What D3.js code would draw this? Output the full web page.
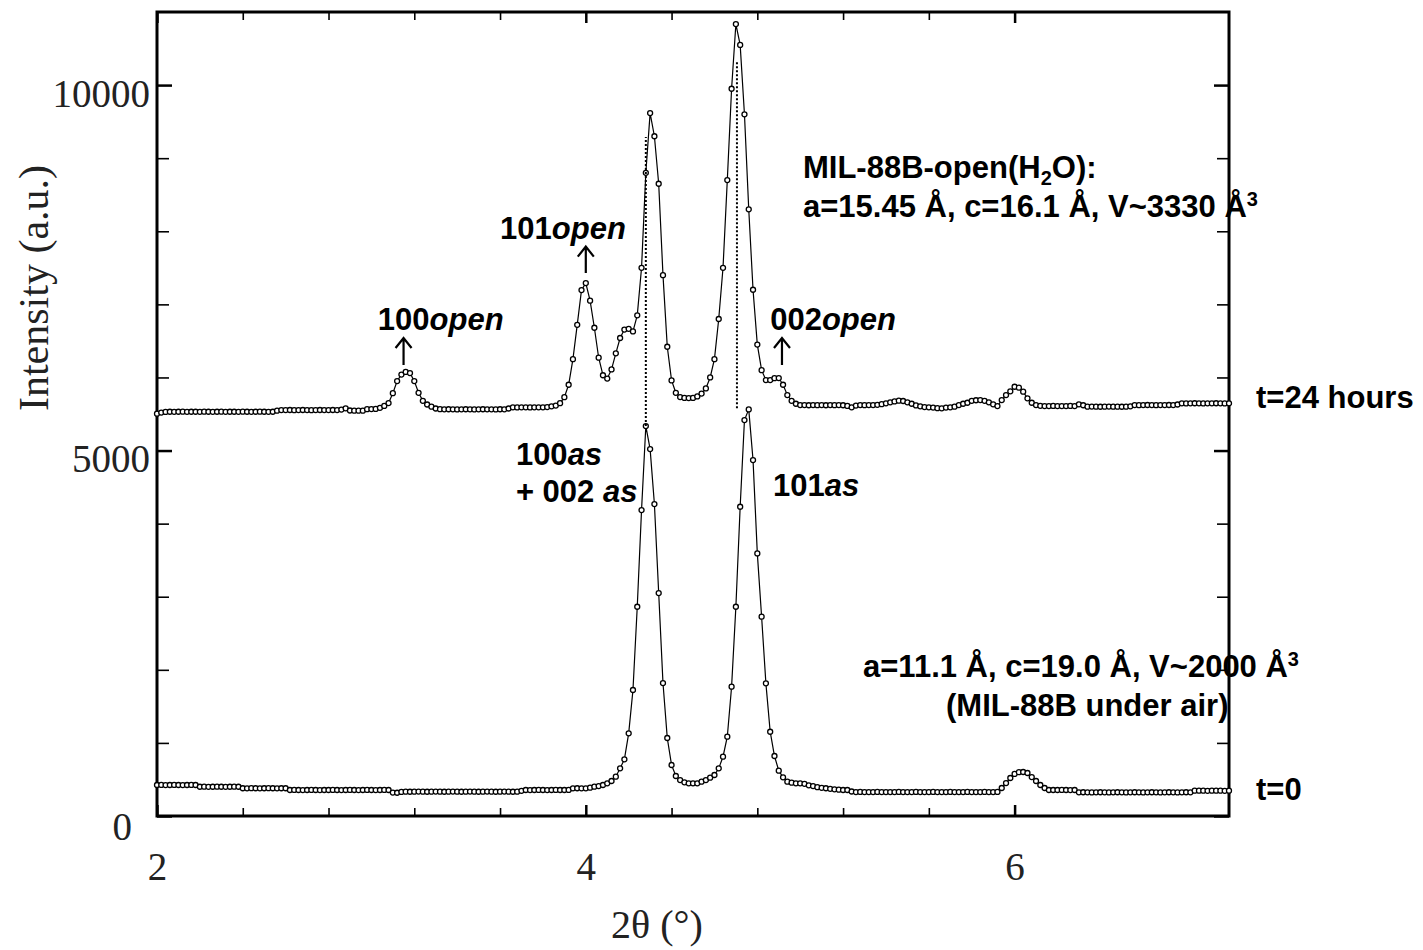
<!DOCTYPE html>
<html>
<head>
<meta charset="utf-8">
<script src="https://cdn.jsdelivr.net/npm/d3@7/dist/d3.min.js"></script>
<style>
  body { margin: 0; background: #fff; }
  #container { width: 1423px; height: 950px; }
</style>
</head>
<body>
<div id="container"></div>
<script>
// scan settings of the diffractometer: 2theta 2..7 deg, one point every 0.02 deg
var scanStart = 2.0;
var scanStep = 0.02;

// t=24 hours pattern, intensity at each step
var pattern24h = [
  5505,5520,5528,5531,5530,5531,5532,5530,5531,5531,
  5530,5532,5531,5530,5531,5532,5530,5531,5531,5530,
  5532,5531,5530,5531,5532,5531,5530,5531,5545,5554,
  5554,5555,5553,5554,5555,5554,5553,5554,5555,5554,
  5554,5555,5554,5560,5577,5548,5545,5546,5545,5566,
  5568,5570,5585,5610,5650,5785,5950,6040,6075,6060,
  5950,5790,5680,5630,5600,5575,5566,5564,5565,5564,
  5563,5564,5565,5564,5563,5564,5565,5564,5564,5563,
  5565,5564,5575,5591,5590,5592,5591,5590,5591,5592,
  5591,5595,5605,5615,5648,5730,5900,6250,6720,7196,
  7291,7050,6680,6270,6030,5985,6110,6330,6540,6655,
  6665,6630,6850,7500,8800,9617,9300,8650,7400,6420,
  5960,5790,5732,5720,5718,5720,5740,5780,5850,6000,
  6250,6800,7500,8700,9950,10835,10550,9600,8300,7200,
  6450,6100,5964,5964,5990,5992,5900,5759,5680,5640,
  5622,5622,5620,5622,5621,5622,5620,5622,5621,5622,
  5620,5610,5591,5615,5622,5621,5622,5622,5625,5635,
  5646,5660,5672,5682,5678,5660,5640,5618,5605,5595,
  5591,5588,5580,5577,5588,5591,5600,5622,5640,5654,
  5680,5688,5691,5680,5660,5632,5609,5691,5759,5810,
  5873,5860,5805,5714,5654,5622,5612,5609,5609,5610,
  5609,5608,5609,5610,5609,5632,5620,5600,5601,5600,
  5599,5600,5601,5600,5600,5599,5600,5605,5622,5621,
  5622,5623,5622,5621,5622,5622,5623,5622,5630,5646,
  5645,5646,5647,5646,5645,5646,5646,5647,5646,5645,
  5646
];

// t=0 pattern (MIL-88B under air)
var pattern0h = [
  424,425,423,424,425,424,423,424,425,424,
  400,401,399,400,401,400,399,400,401,400,
  380,379,381,380,379,380,381,380,379,380,
  380,356,357,356,355,356,357,356,355,356,
  356,357,356,355,356,357,356,355,356,357,
  356,355,356,357,356,320,318,330,333,332,
  333,334,333,332,333,334,333,332,333,334,
  333,332,333,334,333,332,333,334,333,332,
  333,334,333,332,333,345,356,355,356,357,
  356,355,356,357,356,356,357,379,380,379,
  379,387,401,410,424,447,479,538,652,775,
  1131,1724,2863,4186,5335,5020,4268,3050,1819,1067,
  698,547,492,461,447,447,447,470,492,524,
  561,652,811,1085,1769,2863,4231,5417,5563,4870,
  3593,2727,1815,1153,821,620,529,470,456,447,
  447,440,420,410,395,385,380,372,365,360,
  356,356,335,328,329,328,327,328,329,328,
  328,327,328,329,328,327,328,329,328,327,
  328,329,328,327,328,329,328,327,328,329,
  328,327,328,329,328,327,330,383,451,520,
  575,600,602,588,533,479,424,383,356,356,
  356,357,356,355,356,324,325,324,323,324,
  325,324,323,324,325,324,323,324,325,324,
  323,324,325,324,323,324,325,324,323,324,
  325,324,346,347,346,345,346,347,346,345,
  346
];

var seriesNames = ["t=24 hours", "t=0"];
var seriesTagIntensity = [5581, 219];

// axis ticks
var xMajorTicks = [2, 4, 6];
var xMinorTicks = [2.4, 2.8, 3.2, 3.6, 4.4, 4.8, 5.2, 5.6];
var yMajorTicks = [0, 5000, 10000];
var yMinorTicks = [1000, 2000, 3000, 4000, 6000, 7000, 8000, 9000];

// reflection labels, placed in (2theta, intensity)
var peakHkl = ["100", "101", "002", "100", "101"];
var peakPhase = ["open", "open", "open", "as", "as"];
var peakLabelAt = [[3.03, 6650], [3.60, 7890], [4.86, 6650], [3.674, 4800], [4.873, 4380]];

// arrows under the "open" labels: [2theta, from, to]
var arrowMarks = [[3.15, 6170, 6540], [4.00, 7430, 7790], [4.915, 6170, 6540]];

// dotted guides joining the peaks of the two patterns
var guideMarks = [[4.28, 5335, 9290], [4.705, 5580, 10315]];

class Chart {

    constructor(opts) {
        this.element = opts.element;
        this.width = 1423;
        this.height = 950;
        this.draw();
    }

    draw() {
        var svg = d3.select(this.element).append("svg")
            .attr("width", this.width)
            .attr("height", this.height)
            .style("background", "#fff");
        this.svg = svg;

        // plot frame 157..1229 x 12..816
        var x = d3.scaleLinear().domain([2, 7]).range([157, 1229]);
        var y = d3.scaleLinear().domain([0, 11000]).range([816, 12]);
        this.x = x;
        this.y = y;

        this.drawAxes();

        // the two patterns
        var patterns = [pattern24h, pattern0h];
        var line = d3.line()
            .x(function(d) { return x(d.t); })
            .y(function(d) { return y(d.v); });

        patterns.forEach(function(values) {
            var pts = values.map(function(v, i) { return {t: scanStart + i * scanStep, v: v}; });
            var g = svg.append("g");
            g.append("path")
                .datum(pts)
                .attr("d", line)
                .attr("fill", "none")
                .attr("stroke", "#000")
                .attr("stroke-width", 1.2);
            g.selectAll("circle")
                .data(pts)
                .enter().append("circle")
                .attr("cx", function(d) { return x(d.t); })
                .attr("cy", function(d) { return y(d.v); })
                .attr("r", 2.5)
                .attr("fill", "#fff")
                .attr("stroke", "#000")
                .attr("stroke-width", 1.3);
        });

        // dotted guides
        svg.selectAll(".guide")
            .data(guideMarks)
            .enter().append("line")
            .attr("x1", function(d) { return x(d[0]); })
            .attr("x2", function(d) { return x(d[0]); })
            .attr("y1", function(d) { return y(d[1]); })
            .attr("y2", function(d) { return y(d[2]); })
            .attr("stroke", "#000")
            .attr("stroke-width", 2)
            .attr("stroke-dasharray", "2,2");

        this.drawLabels();
    }

    drawAxes() {
        var x = this.x, y = this.y, svg = this.svg;
        var serif = "'Liberation Serif', 'Times New Roman', serif";

        // outer frame
        svg.append("rect")
            .attr("x", 157).attr("y", 12)
            .attr("width", 1229 - 157).attr("height", 816 - 12)
            .attr("fill", "none")
            .attr("stroke", "#000")
            .attr("stroke-width", 3);

        function style(g, w) {
            g.select(".domain").remove();
            g.selectAll(".tick line").attr("stroke", "#000").attr("stroke-width", w);
            g.attr("font-family", serif).attr("font-size", 39);
            g.selectAll(".tick text").attr("fill", "#222");
        }

        // bottom
        svg.append("g").attr("transform", "translate(0,816)")
            .call(d3.axisBottom(x).tickValues(xMajorTicks).tickSize(-11).tickPadding(36).tickFormat(d3.format("d")))
            .call(style, 2.5);
        svg.append("g").attr("transform", "translate(0,816)")
            .call(d3.axisBottom(x).tickValues(xMinorTicks).tickSize(-8).tickFormat(""))
            .call(style, 1.6);
        // top
        svg.append("g").attr("transform", "translate(0,12)")
            .call(d3.axisTop(x).tickValues(xMajorTicks).tickSize(-11).tickFormat(""))
            .call(style, 2.5);
        svg.append("g").attr("transform", "translate(0,12)")
            .call(d3.axisTop(x).tickValues(xMinorTicks).tickSize(-8).tickFormat(""))
            .call(style, 1.6);

        // left
        var left = svg.append("g").attr("transform", "translate(157,0)")
            .call(d3.axisLeft(y).tickValues(yMajorTicks).tickSize(-15).tickPadding(7).tickFormat(d3.format("d")))
            .call(style, 2.5);
        left.selectAll(".tick text").attr("dy", "0.55em");
        left.selectAll(".tick text").filter(function(d) { return d === 0; })
            .attr("x", -25).attr("dy", "0.6em");
        svg.append("g").attr("transform", "translate(157,0)")
            .call(d3.axisLeft(y).tickValues(yMinorTicks).tickSize(-12).tickFormat(""))
            .call(style, 1.6);
        // right
        svg.append("g").attr("transform", "translate(1229,0)")
            .call(d3.axisRight(y).tickValues(yMajorTicks).tickSize(-15).tickFormat(""))
            .call(style, 2.5);
        svg.append("g").attr("transform", "translate(1229,0)")
            .call(d3.axisRight(y).tickValues(yMinorTicks).tickSize(-12).tickFormat(""))
            .call(style, 1.6);

        // axis titles
        svg.append("text")
            .attr("x", 657).attr("y", 938)
            .attr("text-anchor", "middle")
            .attr("font-family", serif).attr("font-size", 40).attr("fill", "#222")
            .text("2\u03b8 (\u00b0)");
        svg.append("text")
            .attr("transform", "translate(48,288) rotate(-90)")
            .attr("text-anchor", "middle")
            .attr("font-family", serif).attr("font-size", 42).attr("fill", "#222")
            .text("Intensity (a.u.)");
    }

    drawLabels() {
        var x = this.x, y = this.y, svg = this.svg;
        var sans = "'Liberation Sans', Arial, sans-serif";

        function boldText(px, py) {
            return svg.append("text")
                .attr("x", px).attr("y", py)
                .attr("font-family", sans)
                .attr("font-weight", "bold")
                .attr("font-size", 31)
                .attr("fill", "#000");
        }

        // reflection labels: hkl + italic phase
        peakHkl.forEach(function(hkl, i) {
            var at = peakLabelAt[i];
            var t = boldText(x(at[0]), y(at[1]));
            t.append("tspan").text(hkl);
            t.append("tspan").attr("font-style", "italic").text(peakPhase[i]);
        });
        // second line under 100as
        var plus = boldText(x(3.674), y(4295));
        plus.append("tspan").text("+ 002 ");
        plus.append("tspan").attr("font-style", "italic").text("as");

        // arrows
        arrowMarks.forEach(function(a) {
            var ax = x(a[0]), y0 = y(a[1]), y1 = y(a[2]);
            svg.append("path")
                .attr("d", "M" + ax + "," + y0 + "V" + y1 +
                           "M" + (ax - 8) + "," + (y1 + 10) + "L" + ax + "," + y1 + "L" + (ax + 8) + "," + (y1 + 10))
                .attr("fill", "none")
                .attr("stroke", "#000")
                .attr("stroke-width", 2.2);
        });

        // cell parameters, open form
        var l1 = boldText(x(5.013), y(8728));
        l1.append("tspan").text("MIL-88B-open(H");
        l1.append("tspan").attr("font-size", 20).attr("dy", 7).text("2");
        l1.append("tspan").attr("dy", -7).text("O):");
        var l2 = boldText(x(5.013), y(8194));
        l2.append("tspan").text("a=15.45 \u00c5, c=16.1 \u00c5, V~3330 \u00c5");
        l2.append("tspan").attr("font-size", 20).attr("dy", -11).text("3");

        // cell parameters, as-synthesised
        var l3 = boldText(x(5.293), y(1900));
        l3.append("tspan").text("a=11.1 \u00c5, c=19.0 \u00c5, V~2000 \u00c5");
        l3.append("tspan").attr("font-size", 20).attr("dy", -11).text("3");
        boldText(x(5.68), y(1370)).text("(MIL-88B under air)");

        // series tags at the right
        seriesNames.forEach(function(name, i) {
            boldText(x(7.126), y(seriesTagIntensity[i])).text(name);
        });
    }
}

new Chart({element: "#container"});
</script>
</body>
</html>
